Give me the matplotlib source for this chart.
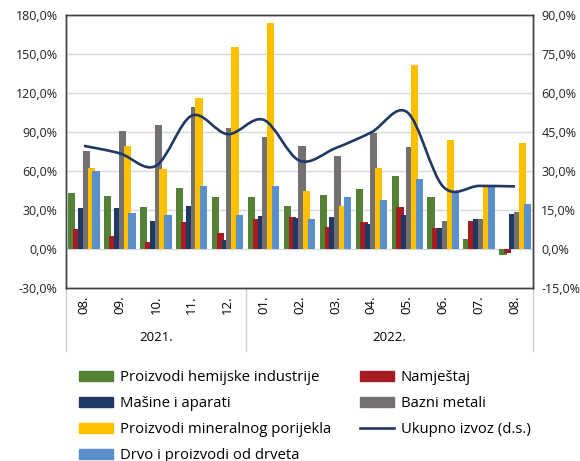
import numpy as np
import matplotlib
matplotlib.use("Agg")
import matplotlib.pyplot as plt
from matplotlib.path import Path
from matplotlib.patches import PathPatch, Patch
from matplotlib.lines import Line2D
from matplotlib.ticker import FuncFormatter
import matplotlib.transforms as mtransforms

plt.rcParams['font.family'] = ['Open Sans', 'DejaVu Sans']

# PODACI (godišnje stope rasta izvoza, %)

mjeseci = ["08.", "09.", "10.", "11.", "12.", "01.", "02.", "03.", "04.", "05.", "06.", "07.", "08."]
godine = ["2021.", "2022."]
mjeseci_po_godini = [5, 8]

hemijske = [43.1, 40.8, 32.3, 47.2, 39.7, 39.7, 33.3, 41.8, 46.2, 55.9, 39.7, 7.7, -4.6]
namjestaj = [15.4, 10.0, 5.6, 20.5, 12.0, 22.8, 24.6, 17.2, 20.5, 32.3, 16.2, 21.5, -3.1]
masine = [31.3, 31.3, 21.5, 33.3, 6.7, 25.6, 23.8, 24.6, 19.2, 25.9, 16.2, 22.8, 26.9]
bazni = [75.1, 91.0, 95.4, 109.5, 93.3, 85.9, 79.5, 71.8, 89.0, 78.2, 21.5, 22.8, 28.2]
mineralni = [62.3, 79.5, 61.3, 115.9, 155.0, 173.6, 44.9, 33.3, 62.0, 141.5, 83.6, 49.5, 81.5]
drvo = [60.3, 28.0, 25.9, 48.2, 25.9, 48.2, 22.8, 39.7, 37.7, 53.6, 44.1, 47.4, 34.6]

ukupno = [39.7, 36.8, 32.0, 51.3, 44.2, 49.7, 34.0, 38.8, 44.9, 52.6, 24.0, 24.3, 24.1]

serije = [
    ("Proizvodi hemijske industrije", hemijske, "#548235"),
    ("Namještaj", namjestaj, "#A71C22"),
    ("Mašine i aparati", masine, "#1F3864"),
    ("Bazni metali", bazni, "#767171"),
    ("Proizvodi mineralnog porijekla", mineralni, "#FFC000"),
    ("Drvo i proizvodi od drveta", drvo, "#5B8FCC"),
]
boja_linije = "#1F3864"

# GRAFIK

fig = plt.figure(figsize=(5.8, 4.61), dpi=100)
ax = fig.add_axes([0.1138, 0.375, 0.8052, 0.5925])
ax2 = ax.twinx()

x = np.arange(len(mjeseci))
razmak = 0.135
sirina = 0.2

for i, (naziv, vrijednosti, boja) in enumerate(serije):
    pomak = (i - 2.5) * razmak
    ax.bar(x + pomak, vrijednosti, sirina, color=boja, zorder=2 + i * 0.01)

ax.set_ylim(-30, 180)
ax.set_yticks(np.arange(-30, 181, 30))
ax.set_xlim(-0.5, len(mjeseci) - 0.5)
ax.yaxis.set_major_formatter(FuncFormatter(lambda v, p: f"{v:.1f}%".replace(".", ",")))
ax.grid(axis='y', color='#D9D9D9', linewidth=1, zorder=0)
ax.set_axisbelow(True)

ax2.set_ylim(-15, 90)
ax2.set_yticks(np.arange(-15, 91, 15))
ax2.yaxis.set_major_formatter(FuncFormatter(lambda v, p: f"{v:.1f}%".replace(".", ",")))

for a in (ax, ax2):
    a.tick_params(axis='y', length=0, labelsize=9, colors='#222222', pad=6)
    for s in a.spines.values():
        s.set_color('#404040')
        s.set_linewidth(1)

# glatka linija (Bezier kroz tačke)
pts = np.column_stack([x, ukupno])
verts = [tuple(pts[0])]
codes = [Path.MOVETO]
n = len(pts)
for i in range(n - 1):
    p0 = pts[max(i - 1, 0)]
    p1 = pts[i]
    p2 = pts[i + 1]
    p3 = pts[min(i + 2, n - 1)]
    c1 = p1 + (p2 - p0) / 6
    c2 = p2 - (p3 - p1) / 6
    verts += [tuple(c1), tuple(c2), tuple(p2)]
    codes += [Path.CURVE4] * 3
ax2.add_patch(PathPatch(Path(verts, codes), facecolor='none',
                        edgecolor=boja_linije, linewidth=1.9, zorder=5))
ax.set_zorder(ax2.get_zorder() - 1)
ax2.patch.set_visible(False)

# kategorije (mjeseci i godine)
ax.set_xticks(x)
ax.set_xticklabels(mjeseci, rotation=90, fontsize=9.5)
ax.tick_params(axis='x', length=0, pad=5)

trans = mtransforms.blended_transform_factory(ax.transData, ax.transAxes)
granice = [-0.5]
for k in mjeseci_po_godini:
    granice.append(granice[-1] + k)
for g in granice:
    ax.add_line(Line2D([g, g], [0, -0.23], transform=trans, color='#D0D0D0',
                       linewidth=1, clip_on=False))
for j, god in enumerate(godine):
    sredina = (granice[j] + granice[j + 1]) / 2
    ax.text(sredina, -0.18, god, transform=trans, ha='center', va='center',
            fontsize=9.5)

# legenda
rucke = [Patch(color=c) for _, _, c in serije]
rucke.append(Line2D([], [], color=boja_linije, linewidth=1.9))
nazivi = [s[0] for s in serije] + ["Ukupno izvoz (d.s.)"]
red = [0, 2, 4, 5, 1, 3, 6]
fig.legend([rucke[i] for i in red], [nazivi[i] for i in red],
           loc='upper left', bbox_to_anchor=(0.136, 0.197), ncol=2,
           frameon=False, fontsize=10.7, handlelength=2.3, handleheight=0.6,
           handletextpad=0.45, labelspacing=0.74, columnspacing=1.95,
           borderaxespad=0, borderpad=0)

fig.savefig("out.png", dpi=100)
